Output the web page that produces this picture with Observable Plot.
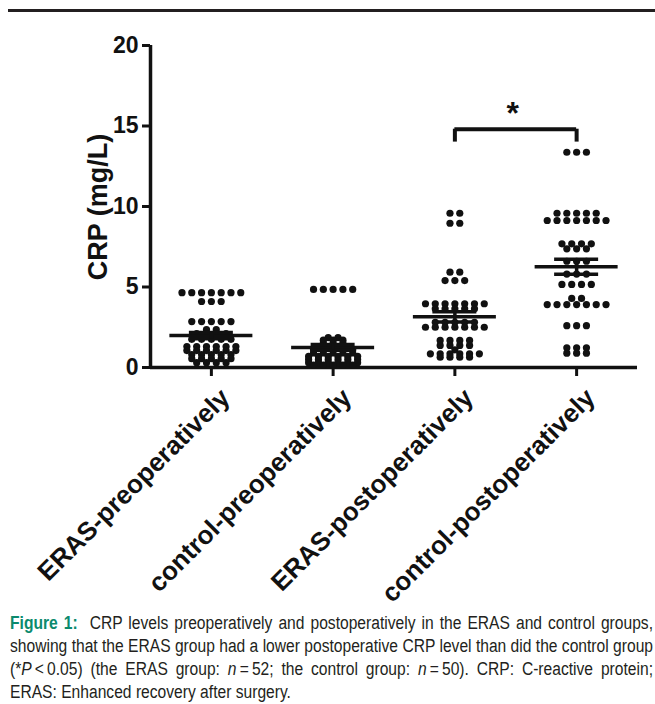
<!DOCTYPE html>
<html>
<head>
<meta charset="utf-8">
<script src="https://cdn.jsdelivr.net/npm/d3@7"></script>
<script src="https://cdn.jsdelivr.net/npm/@observablehq/plot@0.6"></script>
<style>
  body { margin: 0; width: 655px; height: 704px; overflow: hidden; background: #fff; position: relative;
         font-family: "Liberation Sans", Arial, sans-serif; }
  #toprule { position: absolute; left: 8px; right: 0; top: 9px; height: 3px; background: #231f20; }
  #chart { position: absolute; left: 0; top: 0; }
  #ylabel { position: absolute; left: 98px; top: 207px; transform: translate(-50%, -50%) rotate(-90deg);
            font-size: 27px; font-weight: bold; color: #111; white-space: nowrap; }
  #caption { position: absolute; left: 10px; top: 612px; transform-origin: 0 0;
             font-family: "Liberation Sans", Arial, sans-serif;
             font-size: 18px; line-height: 23px; color: #231f20; }
  .ln { white-space: nowrap; text-align: justify; text-align-last: justify; }
  .ln.last { text-align: left; text-align-last: left; }
  .fig { color: #0b8a6d; font-weight: bold; }
</style>
</head>
<body>
<div id="toprule"></div>
<div id="chart"></div>
<div id="ylabel">CRP (mg/L)</div>
<div id="caption">
  <div class="ln"><span><span class="fig">Figure 1:</span>&nbsp; CRP levels preoperatively and postoperatively in the ERAS and control groups,</span></div>
  <div class="ln"><span>showing that the ERAS group had a lower postoperative CRP level than did the control group</span></div>
  <div class="ln"><span>(*<i>P</i>&thinsp;&lt;&thinsp;0.05) (the ERAS group: <i>n</i>&thinsp;=&thinsp;52; the control group: <i>n</i>&thinsp;=&thinsp;50). CRP: C-reactive protein;</span></div>
  <div class="ln last"><span>ERAS: Enhanced recovery after surgery.</span></div>
</div>
<script>
// Categories
const groups = ["ERAS-preoperatively", "control-preoperatively", "ERAS-postoperatively", "control-postoperatively"];

// Values, as [CRP value (mg/L), number of patients at that value]
const erasPre = [[4.65,7],[4.1,3],[2.85,5],[2.35,2],[2.1,4],[1.75,5],[1.3,6],[1.05,6],[0.8,5],[0.55,5],[0.3,4]];
const controlPre = [[4.85,5],[1.85,2],[1.7,3],[1.5,3],[1.3,4],[1.1,5],[0.9,5],[0.7,6],[0.5,6],[0.3,6],[0.15,5]];
const erasPost = [[9.58,2],[8.96,2],[5.92,2],[5.4,3],[3.96,7],[3.65,5],[2.81,5],[2.5,7],[1.68,4],[1.37,4],[1.1,1],[0.85,6],[0.64,4]];
const controlPost = [[13.37,3],[9.58,5],[9.13,7],[7.68,4],[7.37,3],[6.6,3],[5.8,3],[5.16,4],[4.29,2],[3.91,7],[2.6,3],[1.22,3],[0.89,3]];

const yTicks = [0, 5, 10, 15, 20];
const sigPairs = [["ERAS-postoperatively", "control-postoperatively", "*"]];

// Style / layout constants
const W = 655, H = 606;
const mL = 150, mR = 18, mT = 45, mB = 239;
const bandPx = (W - mL - mR) / groups.length;
const dotSpacing = 9.8 / bandPx;
const meanHalf = 41.5 / bandPx;
const semHalf = 22 / bandPx;
const bracketY = 14.8, bracketDrop = 14.0, starY = 15.75;

const series = [erasPre, controlPre, erasPost, controlPost];

const points = [];
series.forEach((rows, gi) => {
  rows.forEach(([v, n]) => {
    for (let i = 0; i < n; i++) {
      points.push({group: groups[gi], x: gi + (i - (n - 1) / 2) * dotSpacing, value: v});
    }
  });
});

const stats = series.map((rows, gi) => {
  const vals = rows.flatMap(([v, n]) => Array(n).fill(v));
  const m = d3.mean(vals);
  const sem = d3.deviation(vals) / Math.sqrt(vals.length);
  return {idx: gi, mean: m, lo: m - sem, hi: m + sem};
});

const sig = sigPairs.map(([a, b, t]) => ({a: groups.indexOf(a), b: groups.indexOf(b), t}));
const sigEnds = sig.flatMap(d => [d.a, d.b]);

const plot = Plot.plot({
  width: W, height: H,
  marginLeft: mL, marginRight: mR, marginTop: mT, marginBottom: mB,
  style: {fontFamily: "'Liberation Sans', Arial, sans-serif", color: "#111", background: "transparent", overflow: "visible"},
  x: {domain: [-0.5, groups.length - 0.5], axis: null},
  y: {domain: [0, 20], axis: null},
  marks: [
    Plot.axisY({ticks: yTicks, tickSize: 8, tickPadding: 4, fontSize: 23, fontWeight: "bold",
                strokeWidth: 3, label: null}),
    Plot.axisX({ticks: d3.range(groups.length), tickFormat: () => "", tickSize: 9, strokeWidth: 3, label: null}),
    Plot.axisX({ticks: d3.range(groups.length), tickFormat: i => groups[i], tickRotate: -45,
                tickSize: 0, tickPadding: 14, dx: 14, dy: 12, fontSize: 26, fontWeight: "bold", label: null}),
    Plot.ruleX([-0.5], {strokeWidth: 3.5, stroke: "#111"}),
    Plot.ruleY([0], {strokeWidth: 3.5, stroke: "#111"}),
    Plot.dot(points, {x: "x", y: "value", r: 3.6, fill: "#111", stroke: null}),
    Plot.ruleY(stats, {x1: d => d.idx - meanHalf, x2: d => d.idx + meanHalf, y: "mean", strokeWidth: 3.5, stroke: "#111"}),
    Plot.ruleY(stats, {x1: d => d.idx - semHalf, x2: d => d.idx + semHalf, y: "hi", strokeWidth: 3.5, stroke: "#111"}),
    Plot.ruleY(stats, {x1: d => d.idx - semHalf, x2: d => d.idx + semHalf, y: "lo", strokeWidth: 3.5, stroke: "#111"}),
    Plot.ruleX(stats, {x: "idx", y1: "lo", y2: "hi", strokeWidth: 3.5, stroke: "#111"}),
    Plot.ruleY(sig, {x1: "a", x2: "b", y: () => bracketY, strokeWidth: 4, stroke: "#111"}),
    Plot.ruleX(sigEnds, {x: d => d, y1: () => bracketDrop, y2: () => bracketY, strokeWidth: 4, stroke: "#111"}),
    Plot.text(sig, {x: d => (d.a + d.b) / 2, y: () => starY, text: "t", fontSize: 32, fontWeight: "bold", dx: -3})
  ]
});
document.getElementById("chart").appendChild(plot);

// Condense the caption so that its justified lines fit the page width
const cap = document.getElementById("caption");
const spans = [...cap.querySelectorAll(".ln > span")];
const maxW = d3.max(spans.slice(0, 3), s => s.getBoundingClientRect().width);
const target = 643;
const s = target / maxW;
cap.style.width = (target / s) + "px";
cap.style.transform = `scaleX(${s})`;
</script>
</body>
</html>
